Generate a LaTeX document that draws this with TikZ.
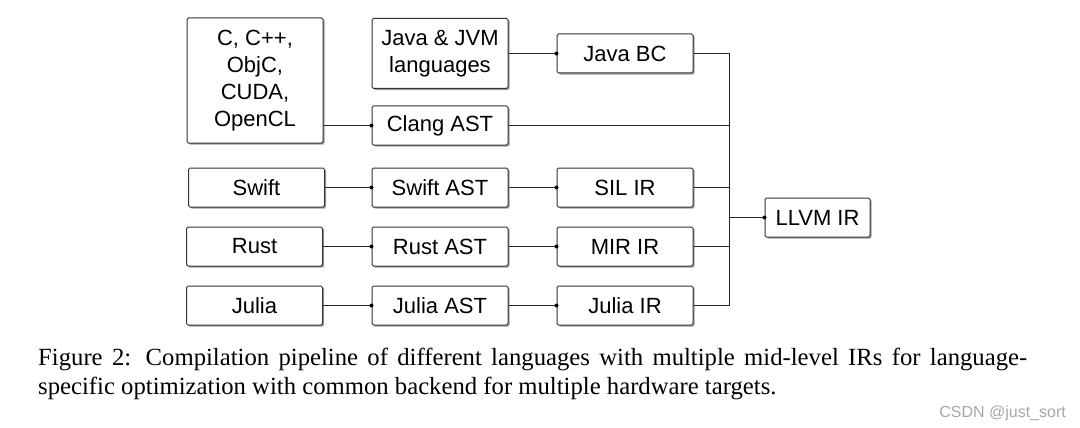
\documentclass[tikz,border=0pt]{standalone}
\usepackage{fontspec}
\setmainfont{Liberation Serif}
\setsansfont{Liberation Sans}
\usetikzlibrary{shadows}
\begin{document}
\begin{tikzpicture}[x=1pt,y=-1pt,
  box/.style={draw=black!80, line width=1pt, fill=white, rounded corners=1.5pt,
    align=center, inner sep=0pt, minimum width=136pt, minimum height=39pt,
    font=\sffamily\fontsize{22}{27}\selectfont,
    drop shadow={shadow xshift=1.6pt, shadow yshift=-1.6pt, fill=black!55, opacity=0.7}},
  conn/.style={draw=black!85, line width=1pt},
  dot/.style={circle, fill=black, inner sep=0pt, minimum size=4pt},
  captext/.style={anchor=base west, inner sep=0pt, font=\fontsize{24.7}{28}\selectfont}]
\useasboundingbox (0,0) rectangle (1080,428);
% nodes
\node[box, minimum height=125pt] (c) at (255,80.5) {C, C++,\\ObjC,\\CUDA,\\OpenCL};
\node[box, minimum height=70pt] (java) at (440,53.5) {Java \& JVM\\languages};
\node[box] (javabc) at (625,53.5) {Java BC};
\node[box] (clang) at (440,125.5) {Clang AST};
\node[box] (swift) at (256.5,187.5) {Swift};
\node[box] (swiftast) at (440,187.5) {Swift AST};
\node[box] (sil) at (625,187.5) {SIL IR};
\node[box] (rust) at (254.5,246.5) {Rust};
\node[box] (rustast) at (440,246.5) {Rust AST};
\node[box] (mir) at (625,246.5) {MIR IR};
\node[box] (julia) at (254.5,305.5) {Julia};
\node[box] (juliaast) at (440,305.5) {Julia AST};
\node[box] (juliair) at (625,305.5) {Julia IR};
\node[box, minimum width=105pt] (llvm) at (817.5,217.5) {LLVM IR};
% bus
\coordinate (bt) at (729.5,53.5);
\coordinate (bb) at (729.5,305.5);
\coordinate (bm) at (729.5,217.5);
\draw[conn] (bt) -- (bb);
% connectors
\draw[conn] (c.east |- clang.west) -- (clang.west) node[dot]{};
\draw[conn] (java.east |- javabc.west) -- (javabc.west) node[dot]{};
\draw[conn] (swift) -- (swiftast.west) node[dot]{};
\draw[conn] (swiftast) -- (sil.west) node[dot]{};
\draw[conn] (rust) -- (rustast.west) node[dot]{};
\draw[conn] (rustast) -- (mir.west) node[dot]{};
\draw[conn] (julia) -- (juliaast.west) node[dot]{};
\draw[conn] (juliaast) -- (juliair.west) node[dot]{};
\draw[conn] (javabc.east) -- (bt);
\draw[conn] (clang.east) -- (clang.east -| bt);
\draw[conn] (sil.east) -- (sil.east -| bt);
\draw[conn] (mir.east) -- (mir.east -| bt);
\draw[conn] (juliair.east) -- (bb);
\draw[conn] (bm) -- (llvm.west) node[dot]{};
% caption
\node[captext] (cap1) at (38,365.5)
  {\hbox to 989pt{Figure 2: Compilation pipeline of different languages with multiple mid-level IRs for language-}};
\node[captext] (cap2) at (38,394)
  {specific optimization with common backend for multiple hardware targets.};
\node[anchor=base east, inner sep=0pt, text=black!35, font=\sffamily\fontsize{16}{18}\selectfont] (wm) at (1066,417) {CSDN @just\_sort};
\end{tikzpicture}
\end{document}
